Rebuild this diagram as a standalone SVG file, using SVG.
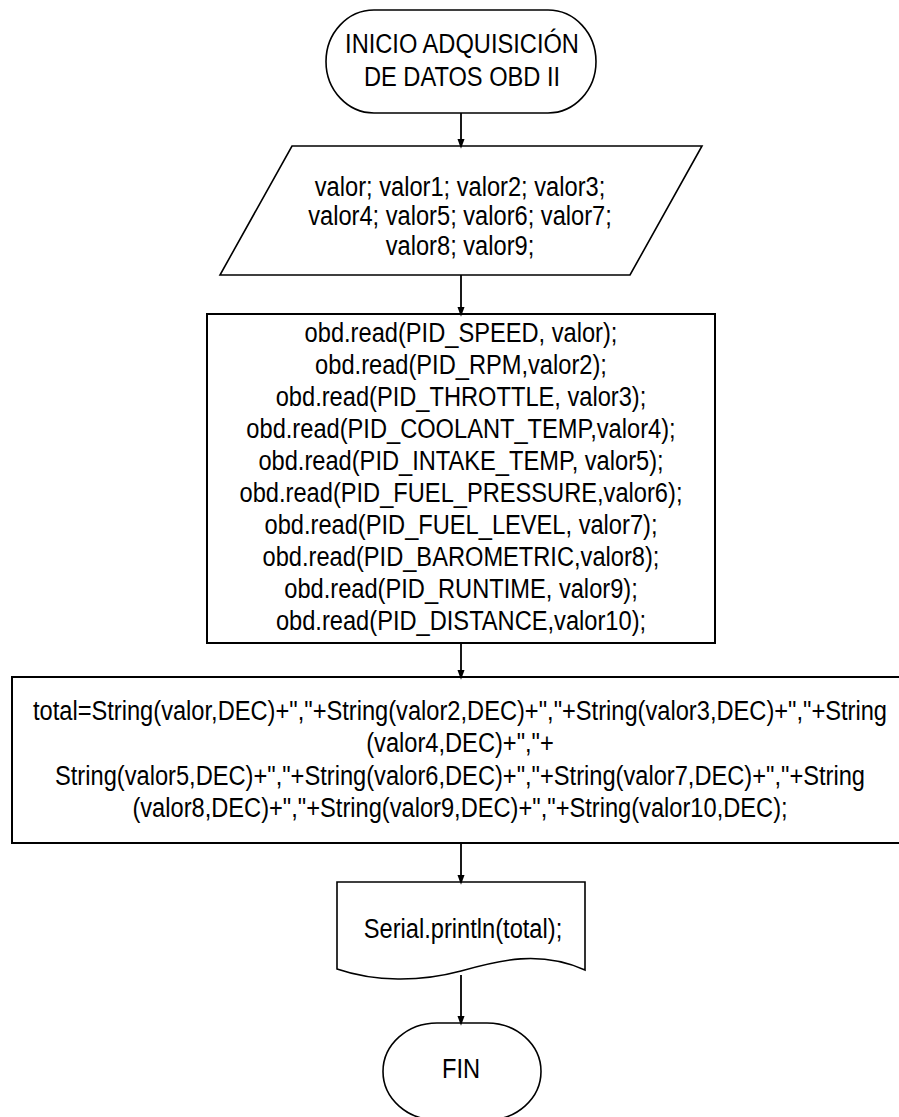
<svg xmlns="http://www.w3.org/2000/svg" width="899" height="1117" viewBox="0 0 899 1117">
  <style>
    .shape { fill: #ffffff; stroke: #000000; stroke-width: 2; }
    .term { fill: #ffffff; stroke: #000000; stroke-width: 1.6; }
    .lbl { font-family: "Liberation Sans", Arial, sans-serif; font-size: 28px; fill: #000000; text-anchor: middle; }
    .edge { fill: none; stroke: #000000; stroke-width: 1.8; }
  </style>
  <defs>
    <marker id="arrow" markerWidth="10" markerHeight="14" refX="10" refY="5" orient="auto" markerUnits="userSpaceOnUse" viewBox="0 0 14 10">
      <path d="M0,0 L14,5 L0,10 Z" fill="#000000"/>
    </marker>
  </defs>
  <rect width="899" height="1117" fill="#ffffff"/>

  <!-- start terminal -->
  <g id="inicio">
    <rect class="term" x="326" y="10" width="270" height="103" rx="48" ry="51.5"/>
    <g transform="translate(462 0) scale(0.845 1)">
      <text class="lbl" x="0" y="53">INICIO ADQUISICIÓN</text>
      <text class="lbl" x="0" y="86">DE DATOS OBD II</text>
    </g>
  </g>

  <!-- variable declaration (data) -->
  <g id="variables">
    <polygon class="term" points="292,146 702,146 630,275 220,275"/>
    <g transform="translate(460 0) scale(0.845 1)">
      <text class="lbl" x="0" y="196">valor; valor1; valor2; valor3;</text>
      <text class="lbl" x="0" y="225.5">valor4; valor5; valor6; valor7;</text>
      <text class="lbl" x="0" y="255">valor8; valor9;</text>
    </g>
  </g>

  <!-- PID reads -->
  <g id="lectura">
    <rect class="shape" x="207" y="314" width="508" height="329"/>
    <g transform="translate(461 0) scale(0.845 1)">
      <text class="lbl" x="0" y="342">obd.read(PID_SPEED, valor);</text>
      <text class="lbl" x="0" y="374">obd.read(PID_RPM,valor2);</text>
      <text class="lbl" x="0" y="406">obd.read(PID_THROTTLE, valor3);</text>
      <text class="lbl" x="0" y="438">obd.read(PID_COOLANT_TEMP,valor4);</text>
      <text class="lbl" x="0" y="470">obd.read(PID_INTAKE_TEMP, valor5);</text>
      <text class="lbl" x="0" y="502">obd.read(PID_FUEL_PRESSURE,valor6);</text>
      <text class="lbl" x="0" y="534">obd.read(PID_FUEL_LEVEL, valor7);</text>
      <text class="lbl" x="0" y="566">obd.read(PID_BAROMETRIC,valor8);</text>
      <text class="lbl" x="0" y="598">obd.read(PID_RUNTIME, valor9);</text>
      <text class="lbl" x="0" y="630">obd.read(PID_DISTANCE,valor10);</text>
    </g>
  </g>

  <!-- string concatenation -->
  <g id="total">
    <rect class="shape" x="12" y="677" width="898" height="166"/>
    <g transform="translate(460 0) scale(0.845 1)">
      <text class="lbl" x="0" y="720">total=String(valor,DEC)+","+String(valor2,DEC)+","+String(valor3,DEC)+","+String</text>
      <text class="lbl" x="0" y="752">(valor4,DEC)+","+</text>
      <text class="lbl" x="0" y="785">String(valor5,DEC)+","+String(valor6,DEC)+","+String(valor7,DEC)+","+String</text>
      <text class="lbl" x="0" y="817">(valor8,DEC)+","+String(valor9,DEC)+","+String(valor10,DEC);</text>
    </g>
  </g>

  <!-- serial output (document) -->
  <g id="serial">
    <path class="term" d="M337,882 H585 V970 C540,950 500,960 461,971 C420,982 375,982 337,969 Z"/>
    <g transform="translate(463 0) scale(0.845 1)">
      <text class="lbl" x="0" y="938">Serial.println(total);</text>
    </g>
  </g>

  <!-- end terminal (bottom edge sits on the page border) -->
  <g id="fin">
    <rect class="term" x="383" y="1023" width="158" height="97" rx="54" ry="48.5"/>
    <g transform="translate(461 0) scale(0.845 1)">
      <text class="lbl" x="0" y="1078">FIN</text>
    </g>
  </g>

  <!-- connectors -->
  <g id="connectors">
    <line class="edge" x1="461" y1="113" x2="461" y2="146" marker-end="url(#arrow)"/>
    <line class="edge" x1="461" y1="275" x2="461" y2="314" marker-end="url(#arrow)"/>
    <line class="edge" x1="461" y1="643" x2="461" y2="677" marker-end="url(#arrow)"/>
    <line class="edge" x1="461" y1="843" x2="461" y2="882" marker-end="url(#arrow)"/>
    <line class="edge" x1="461" y1="975" x2="461" y2="1023" marker-end="url(#arrow)"/>
  </g>
</svg>
